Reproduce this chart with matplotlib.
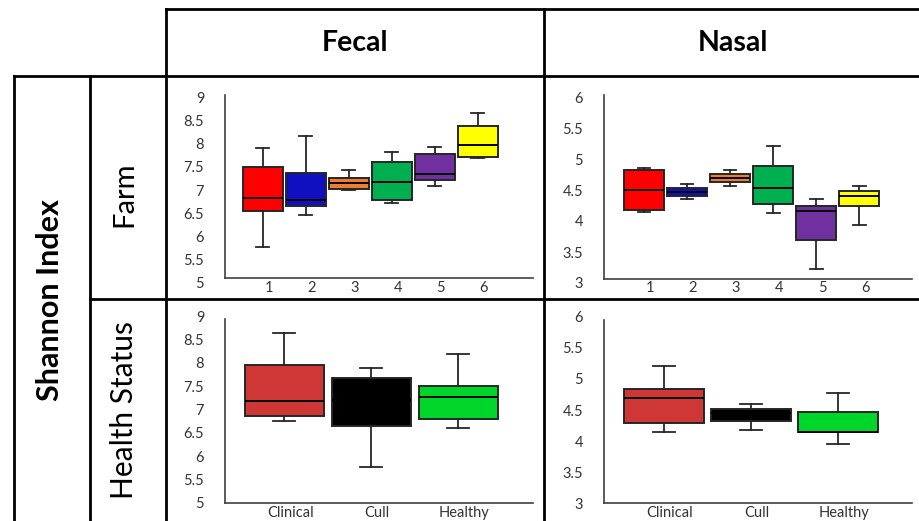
import matplotlib
matplotlib.use("Agg")
import matplotlib.pyplot as plt
from matplotlib.lines import Line2D
from matplotlib.transforms import ScaledTranslation

plt.rcParams["font.family"] = ["Lato", "DejaVu Sans"]

# ---- data ----
farm_labels = ["1", "2", "3", "4", "5", "6"]
farm_colors = ["#FF0000", "#1010C0", "#ED7D31", "#00B050", "#7030A0", "#FFFF00"]

fecal_farm_lo = [5.77, 6.46, 7.01, 6.71, 7.09, 7.69]
fecal_farm_q1 = [6.55, 6.66, 7.03, 6.79, 7.22, 7.70]
fecal_farm_med = [6.83, 6.78, 7.14, 7.17, 7.34, 7.97]
fecal_farm_q3 = [7.50, 7.36, 7.25, 7.61, 7.77, 8.37]
fecal_farm_hi = [7.90, 8.17, 7.44, 7.82, 7.93, 8.65]

nasal_farm_lo = [4.15, 4.35, 4.56, 4.13, 3.22, 3.94]
nasal_farm_q1 = [4.17, 4.41, 4.63, 4.27, 3.69, 4.24]
nasal_farm_med = [4.50, 4.47, 4.70, 4.54, 4.16, 4.40]
nasal_farm_q3 = [4.83, 4.54, 4.76, 4.89, 4.25, 4.49]
nasal_farm_hi = [4.85, 4.59, 4.82, 5.21, 4.35, 4.57]

health_labels = ["Clinical", "Cull", "Healthy"]
health_colors = ["#CF3636", "#000000", "#00D62A"]

fecal_health_lo = [6.76, 5.76, 6.60]
fecal_health_q1 = [6.87, 6.64, 6.79]
fecal_health_med = [7.19, 7.20, 7.26]
fecal_health_q3 = [7.96, 7.67, 7.51]
fecal_health_hi = [8.64, 7.88, 8.18]

nasal_health_lo = [4.14, 4.18, 3.95]
nasal_health_q1 = [4.29, 4.33, 4.15]
nasal_health_med = [4.69, 4.45, 4.15]
nasal_health_q3 = [4.83, 4.52, 4.47]
nasal_health_hi = [5.21, 4.59, 4.77]

fecal_ticks = [5, 5.5, 6, 6.5, 7, 7.5, 8, 8.5, 9]
nasal_ticks = [3, 3.5, 4, 4.5, 5, 5.5, 6]

W, H = 920, 521
fig = plt.figure(figsize=(W / 100, H / 100), dpi=100)


def line(x0, y0, x1, y1):
    fig.add_artist(Line2D([x0 / W, x1 / W], [1 - y0 / H, 1 - y1 / H],
                          transform=fig.transFigure, color="black", lw=2.0,
                          solid_capstyle="projecting"))


def add_ax(l, t, r, b):
    return fig.add_axes([l / W, 1 - b / H, (r - l) / W, (b - t) / H])


def box_panel(ax, labels, colors, lo, q1, med, q3, hi, ticks, width, capw,
              xlim, spine_lo, spine_hi):
    stats = []
    for i in range(len(labels)):
        stats.append(dict(whislo=lo[i], q1=q1[i], med=med[i], q3=q3[i],
                          whishi=hi[i], fliers=[], label=labels[i]))
    pos = list(range(1, len(labels) + 1))
    parts = ax.bxp(stats, positions=pos, widths=width, capwidths=capw,
                   showfliers=False, patch_artist=True,
                   boxprops=dict(edgecolor="#262626", linewidth=1.4),
                   medianprops=dict(color="#000000", linewidth=1.4),
                   whiskerprops=dict(color="#262626", linewidth=1.3),
                   capprops=dict(color="#262626", linewidth=1.3))
    for patch, c in zip(parts["boxes"], colors):
        patch.set_facecolor(c)
    ax.set_xlim(*xlim)
    ax.set_ylim(ticks[0], ticks[-1])
    ax.set_yticks(ticks)
    ax.set_yticklabels([f"{t:g}" for t in ticks])
    ax.spines["top"].set_visible(False)
    ax.spines["right"].set_visible(False)
    for s in ("left", "bottom"):
        ax.spines[s].set_color("#404040")
        ax.spines[s].set_linewidth(1.2)
    ax.spines["bottom"].set_position(("data", spine_lo))
    ax.spines["left"].set_bounds(spine_lo, spine_hi)
    ax.tick_params(length=0, labelsize=10.5, labelcolor="#333333")
    ax.tick_params(axis="y", pad=15)
    ax.tick_params(axis="x", pad=2)
    off = ScaledTranslation(6 / 100, 0, fig.dpi_scale_trans)
    for lab in ax.get_xticklabels():
        lab.set_transform(lab.get_transform() + off)
    ax.patch.set_visible(False)


ax1 = add_ax(225, 97, 533, 283)
box_panel(ax1, farm_labels, farm_colors, fecal_farm_lo, fecal_farm_q1,
          fecal_farm_med, fecal_farm_q3, fecal_farm_hi, fecal_ticks,
          0.93, 0.3, (0.12, 7.28), 5.1, 9.04)

ax2 = add_ax(604, 97, 912, 283)
box_panel(ax2, farm_labels, farm_colors, nasal_farm_lo, nasal_farm_q1,
          nasal_farm_med, nasal_farm_q3, nasal_farm_hi, nasal_ticks,
          0.93, 0.3, (0.07, 7.23), 3.07, 6.03)

ax3 = add_ax(225, 316, 533, 503)
box_panel(ax3, health_labels, health_colors, fecal_health_lo, fecal_health_q1,
          fecal_health_med, fecal_health_q3, fecal_health_hi, fecal_ticks,
          0.91, 0.26, (0.32, 3.86), 5.0, 8.93)

ax4 = add_ax(604, 316.7, 912, 503.3)
box_panel(ax4, health_labels, health_colors, nasal_health_lo, nasal_health_q1,
          nasal_health_med, nasal_health_q3, nasal_health_hi, nasal_ticks,
          0.91, 0.26, (0.31, 3.85), 3.0, 5.95)

# ---- table grid ----
line(166, 9, 920, 9)
line(14, 76, 920, 76)
line(90, 299, 920, 299)
line(14, 76, 14, 521)
line(90, 76, 90, 521)
line(166, 9, 166, 521)
line(544, 9, 544, 521)

# ---- header texts ----
fig.text(355 / W, 1 - 43 / H, "Fecal", ha="center", va="center",
         fontsize=20.5, fontweight="bold")
fig.text(733 / W, 1 - 43 / H, "Nasal", ha="center", va="center",
         fontsize=20.5, fontweight="bold")
fig.text(50 / W, 1 - 300 / H, "Shannon Index", ha="center", va="center",
         rotation=90, fontsize=22, fontweight="bold")
fig.text(124 / W, 1 - 194 / H, "Farm", ha="center", va="center",
         rotation=90, fontsize=21)
fig.text(124 / W, 1 - 410 / H, "Health Status", ha="center", va="center",
         rotation=90, fontsize=21.5)

fig.savefig("out.png", dpi=100)
